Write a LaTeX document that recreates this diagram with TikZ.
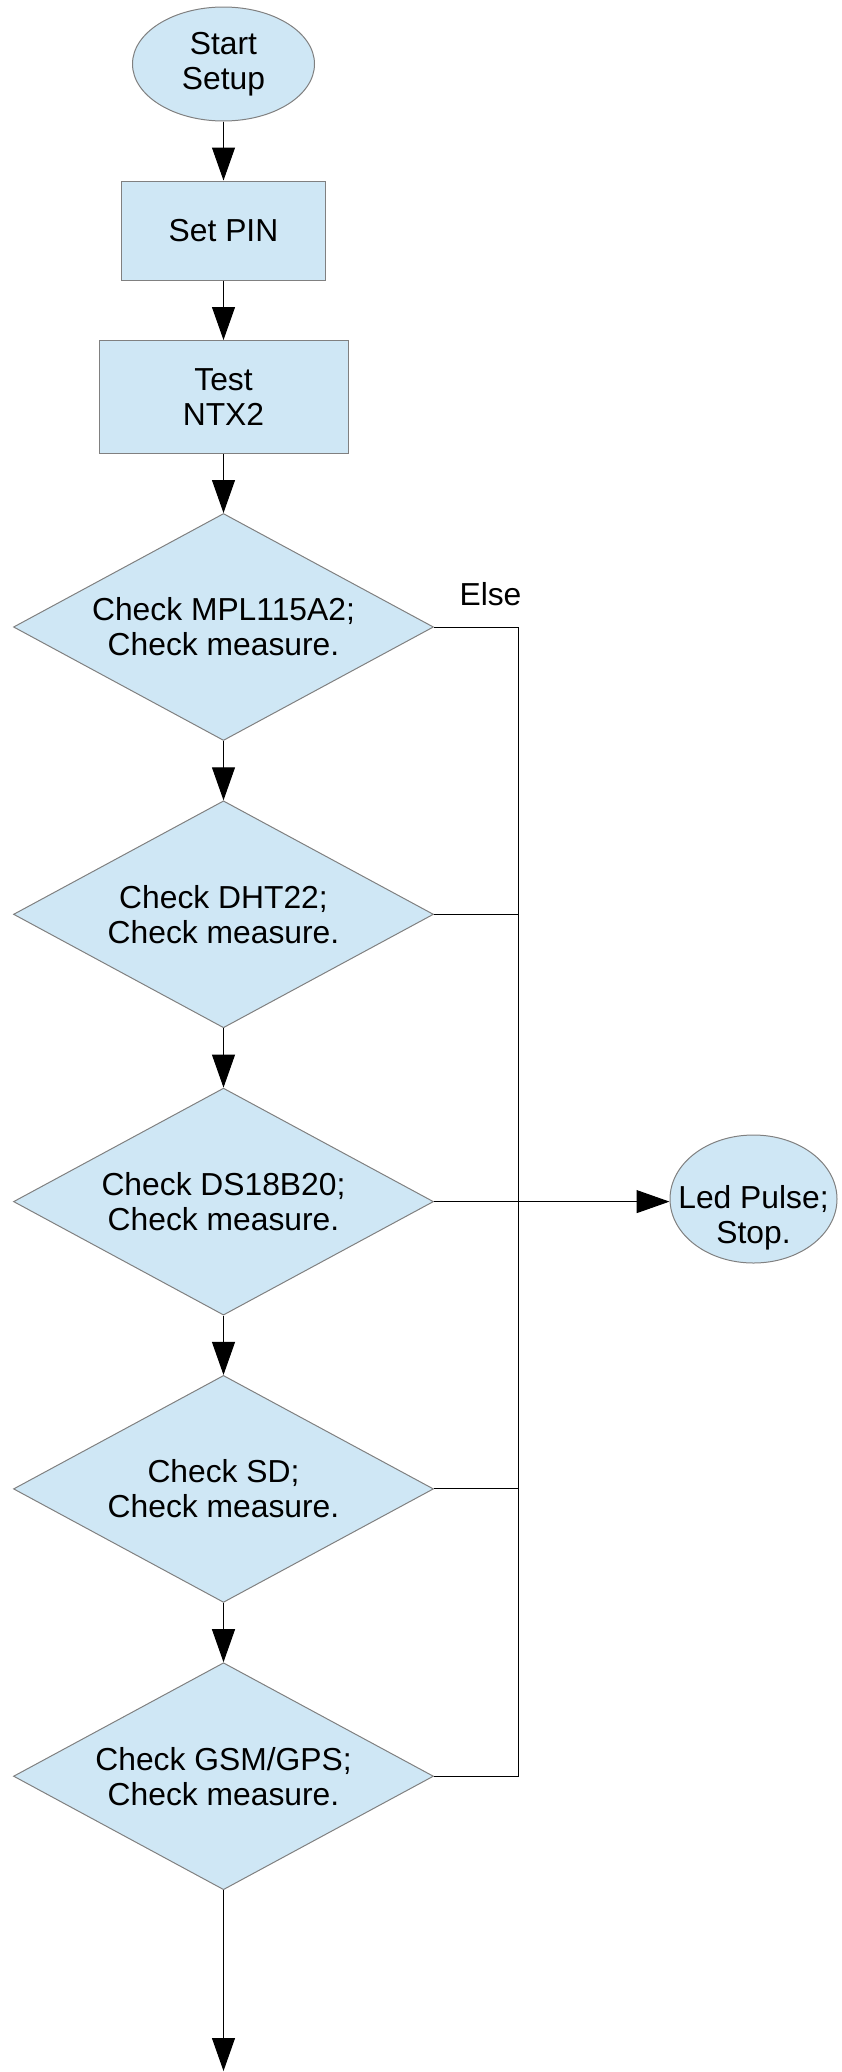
\documentclass[tikz,border=0pt]{standalone}
\usepackage{fontspec}
\setmainfont{Liberation Sans}
\usetikzlibrary{shapes.geometric,arrows.meta}
\definecolor{boxfill}{HTML}{CFE7F5}
\definecolor{boxline}{HTML}{808080}
\definecolor{connline}{HTML}{000000}
\begin{document}
\begin{tikzpicture}[x=1pt,y=-1pt,
  every node/.style={font=\fontsize{31.8}{35}\selectfont, align=center, inner sep=0pt},
  term/.style={ellipse, draw=boxline, fill=boxfill, line width=1pt},
  procbox/.style={rectangle, draw=boxline, fill=boxfill, line width=1pt},
  decision/.style={diamond, aspect=1.85, draw=boxline, fill=boxfill, line width=1pt,
    minimum width=420pt, minimum height=227pt},
  conn/.style={draw=connline, line width=1pt},
  flow/.style={conn, -{Triangle[length=33pt,width=23pt]}},
]
\useasboundingbox (0,0) rectangle (841,2072);

\node[term, minimum width=182pt, minimum height=114pt] (start) at (223.5,64) {Start\\Setup};
\node[procbox, minimum width=204pt, minimum height=99pt] (pin) at (223.5,230.5) {Set PIN};
\node[procbox, minimum width=249pt, minimum height=113pt] (ntx) at (223.5,397) {Test\\NTX2};

\node[decision] (d1) at (223.5,627) {Check MPL115A2;\\Check measure.};
\node[decision] (d2) at (223.5,914.3) {Check DHT22;\\Check measure.};
\node[decision] (d3) at (223.5,1201.6) {Check DS18B20;\\Check measure.};
\node[decision] (d4) at (223.5,1488.9) {Check SD;\\Check measure.};
\node[decision] (d5) at (223.5,1776.2) {Check GSM/GPS;\\Check measure.};

\node[term, minimum width=167pt, minimum height=128pt] (led) at (753.5,1199) {};
\node (ledtxt) at ([yshift=-19pt]led.center) {Led Pulse;\\Stop.};

\node (else) at (490.5,594) {Else};

\coordinate (busx) at (518.3,0);
\coordinate (endpt) at (223.5,2071);

\draw[flow] (start) -- (pin);
\draw[flow] (pin) -- (ntx);
\draw[flow] (ntx) -- (d1);
\draw[flow] (d1) -- (d2);
\draw[flow] (d2) -- (d3);
\draw[flow] (d3) -- (d4);
\draw[flow] (d4) -- (d5);
\draw[flow] (d5.south) -- (endpt);

\draw[conn] (d1.east) -- (d1.east -| busx) -- (d5.east -| busx) -- (d5.east);
\draw[conn] (d2.east) -- (d2.east -| busx);
\draw[conn] (d4.east) -- (d4.east -| busx);
\draw[flow] (d3.east) -- (d3.east -| led.west);
\end{tikzpicture}
\end{document}
